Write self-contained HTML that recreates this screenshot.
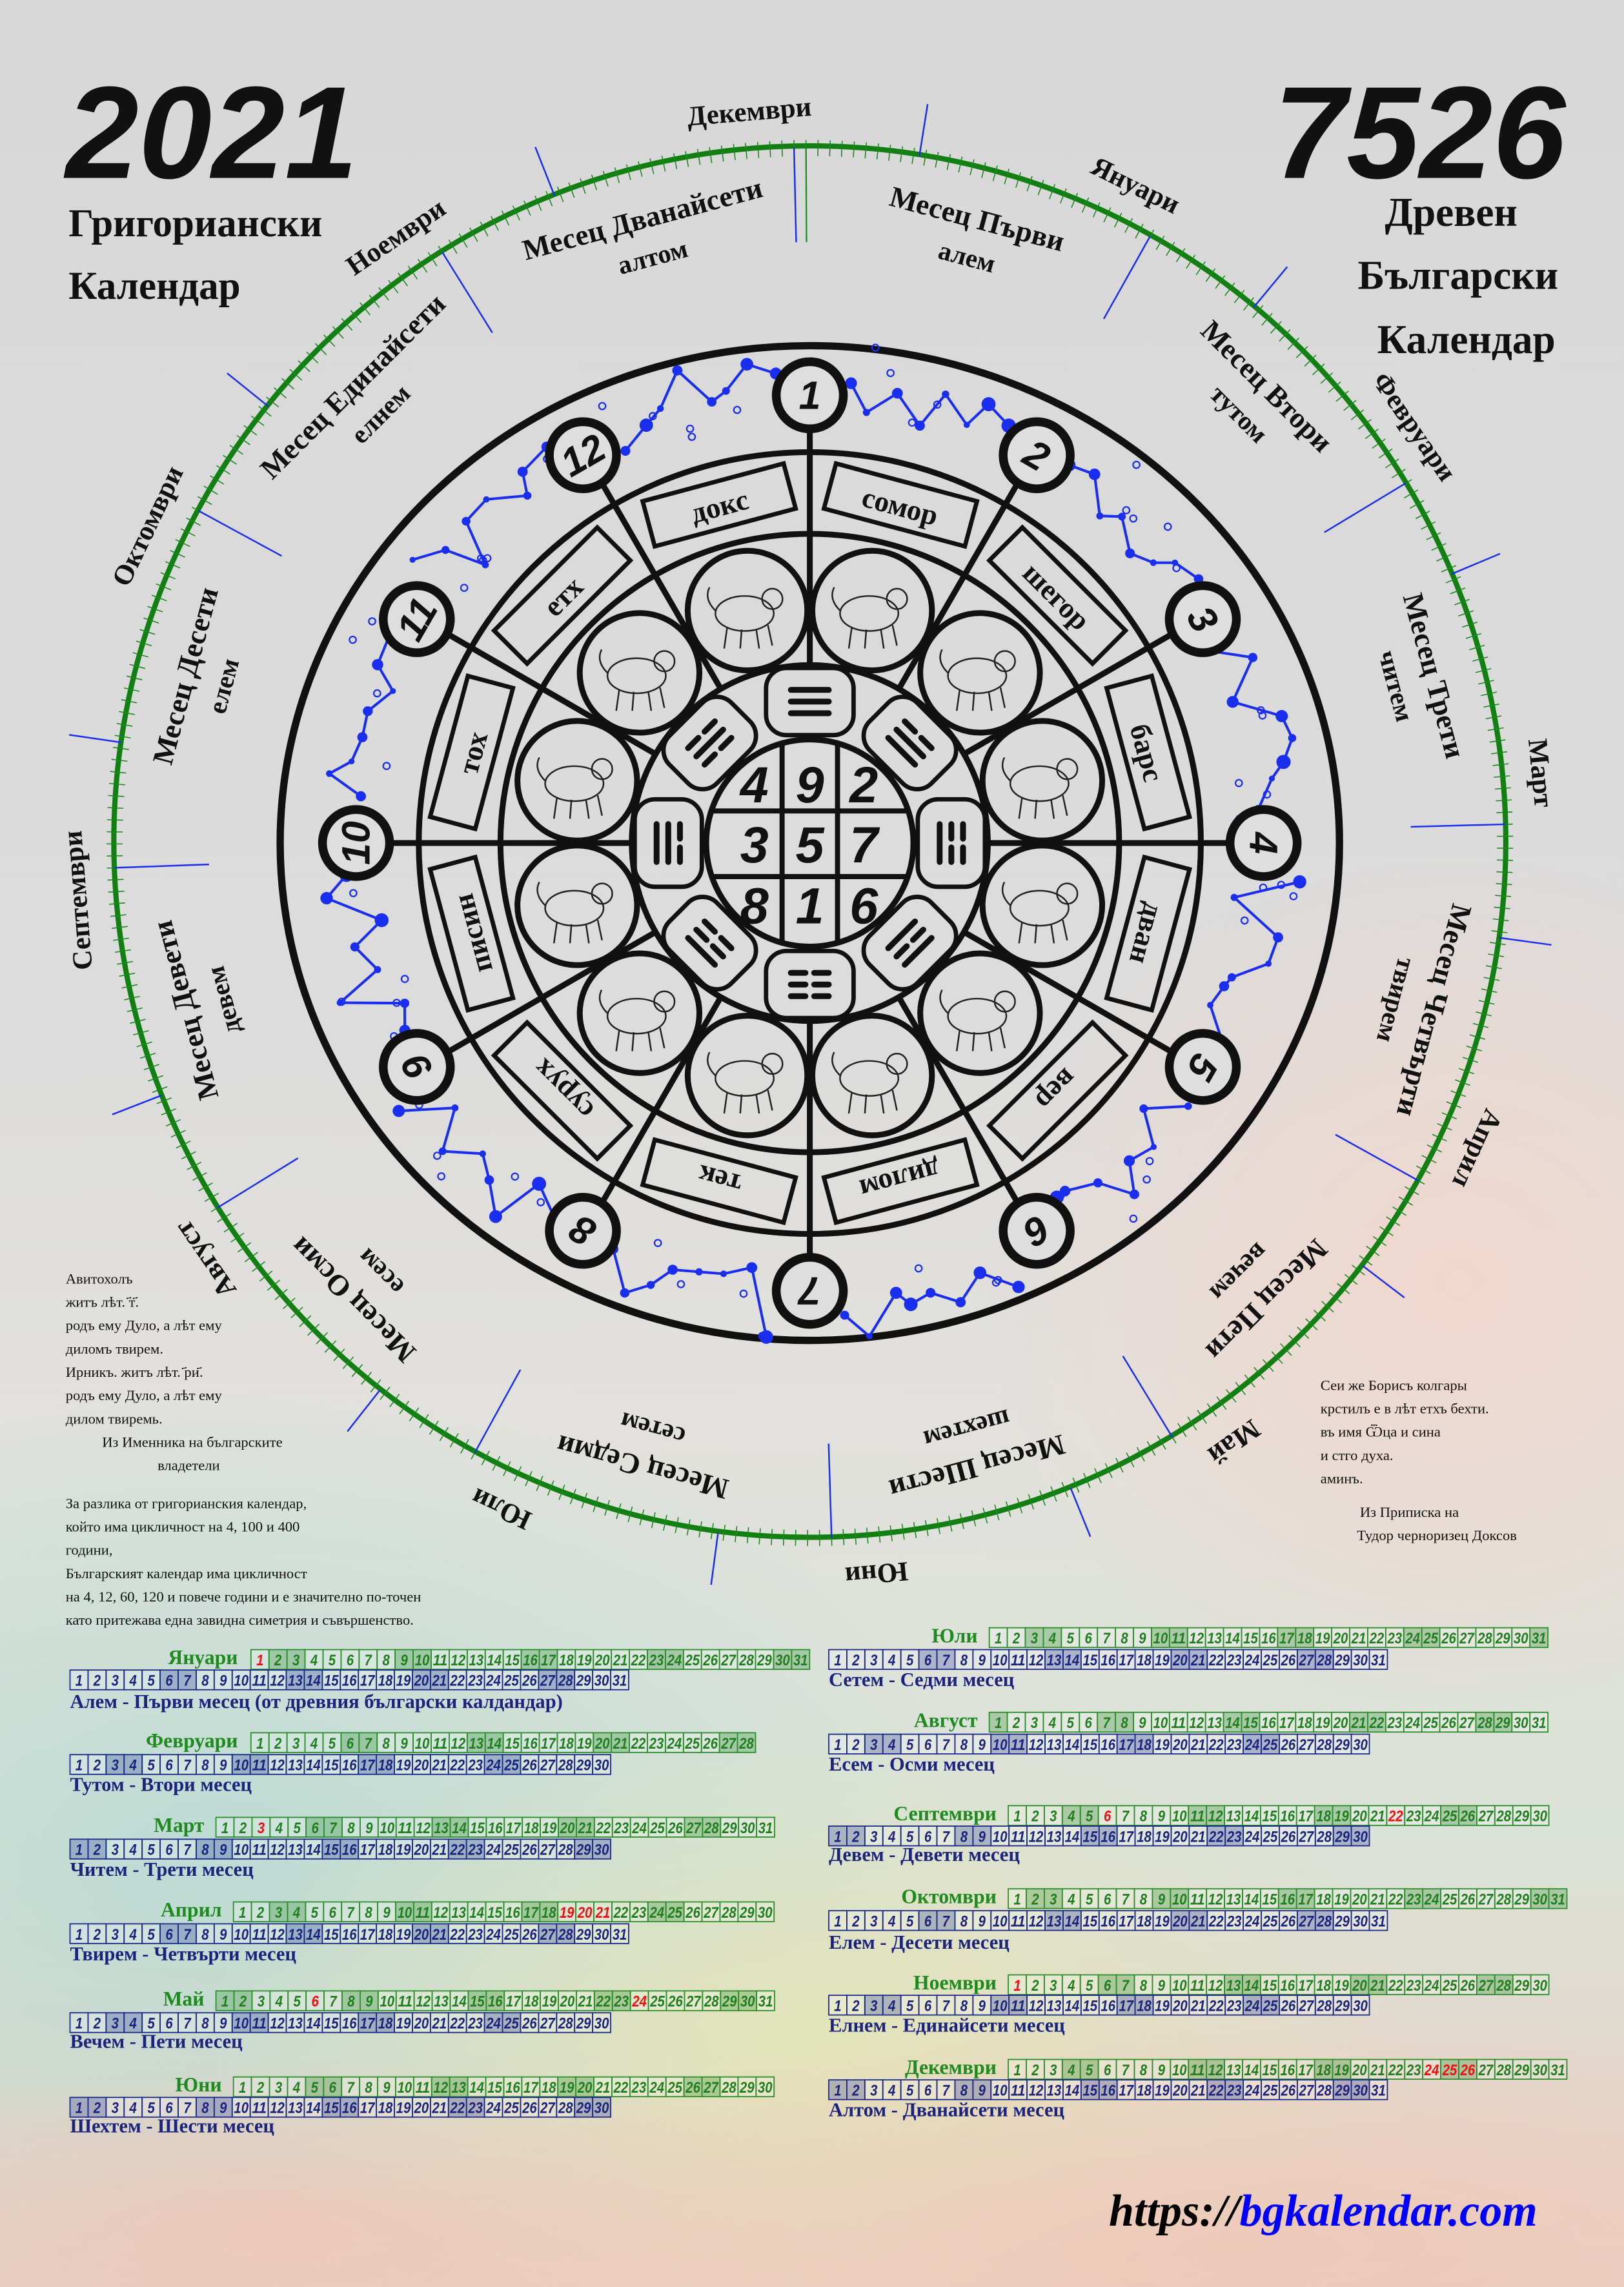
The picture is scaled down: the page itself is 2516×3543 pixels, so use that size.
<!DOCTYPE html>
<html><head><meta charset="utf-8">
<style>
html,body{margin:0;padding:0;width:2516px;height:3543px;overflow:hidden;}
svg{display:block;}
.s{font-family:"Liberation Serif","DejaVu Serif",serif;font-weight:bold;}
.n{font-family:"Liberation Sans","DejaVu Sans",sans-serif;font-weight:bold;font-style:italic;}
.t{font-family:"Liberation Serif","DejaVu Serif",serif;font-size:10px;fill:#111;}
.gl{font-family:"Liberation Serif",serif;font-weight:bold;font-size:14px;fill:#1f8a1f;text-anchor:end;}
.cap{font-family:"Liberation Serif",serif;font-weight:bold;font-size:13.5px;fill:#1a237e;}
</style></head>
<body>
<svg id="sv" width="2516" height="3543" viewBox="0 0 1113 1568" preserveAspectRatio="none" xmlns="http://www.w3.org/2000/svg">
<defs>
<linearGradient id="bg" x1="0" y1="0" x2="0" y2="1">
<stop offset="0" stop-color="#d8d8d8"/>
<stop offset="0.45" stop-color="#dcdcdc"/>
<stop offset="0.62" stop-color="#e2e1dd"/>
<stop offset="0.8" stop-color="#dbe2d8"/>
<stop offset="1" stop-color="#e9cfc2"/>
</linearGradient>
<radialGradient id="r1"><stop offset="0" stop-color="#b9dbd3" stop-opacity="0.9"/><stop offset="1" stop-color="#b9dbd3" stop-opacity="0"/></radialGradient>
<radialGradient id="r2"><stop offset="0" stop-color="#f3d6cc" stop-opacity="0.9"/><stop offset="1" stop-color="#f3d6cc" stop-opacity="0"/></radialGradient>
<radialGradient id="r3"><stop offset="0" stop-color="#e3e6b8" stop-opacity="0.9"/><stop offset="1" stop-color="#e3e6b8" stop-opacity="0"/></radialGradient>
<radialGradient id="r4"><stop offset="0" stop-color="#efc9b8" stop-opacity="0.9"/><stop offset="1" stop-color="#efc9b8" stop-opacity="0"/></radialGradient>
</defs>
<rect width="1113" height="1568" fill="url(#bg)"/>
<ellipse cx="150" cy="1280" rx="520" ry="330" fill="url(#r1)"/>
<ellipse cx="1000" cy="880" rx="330" ry="300" fill="url(#r2)"/>
<ellipse cx="560" cy="1400" rx="420" ry="220" fill="url(#r3)"/>
<ellipse cx="850" cy="1540" rx="600" ry="160" fill="url(#r4)"/>
<ellipse cx="200" cy="1530" rx="400" ry="120" fill="url(#r4)"/>

<text x="45" y="122" class="n" font-size="90" fill="#111">2021</text>
<text x="47" y="162" class="s" font-size="27" fill="#111">Григориански</text>
<text x="47" y="205" class="s" font-size="27" fill="#111">Календар</text>
<text x="1073" y="122" class="n" font-size="90" fill="#111" text-anchor="end">7526</text>
<text x="1040" y="155" class="s" font-size="28" fill="#111" text-anchor="end">Древен</text>
<text x="1068" y="198" class="s" font-size="28" fill="#111" text-anchor="end">Български</text>
<text x="1066" y="242" class="s" font-size="28" fill="#111" text-anchor="end">Календар</text>

<g id="wheel"></g>

<text class="t"><tspan x="45" y="880">Авитохолъ</tspan><tspan x="45" y="896">житъ лѣт. ҃т҃.</tspan><tspan x="45" y="912">родъ ему Дуло, а лѣт ему</tspan><tspan x="45" y="928">диломъ твирем.</tspan><tspan x="45" y="944">Ирникъ. житъ лѣт. ҃ри҃.</tspan><tspan x="45" y="960">родъ ему Дуло, а лѣт ему</tspan><tspan x="45" y="976">дилом твиремь.</tspan><tspan x="70" y="992">Из Именника на българските</tspan><tspan x="108" y="1008">владетели</tspan></text>
<text class="t"><tspan x="45" y="1034">За разлика от григорианския календар,</tspan><tspan x="45" y="1050">който има цикличност на 4, 100 и 400</tspan><tspan x="45" y="1066">години,</tspan><tspan x="45" y="1082">Българският календар има цикличност</tspan><tspan x="45" y="1098">на 4, 12, 60, 120 и повече години и е значително по-точен</tspan><tspan x="45" y="1114">като притежава една завидна симетрия и съвършенство.</tspan></text>
<text class="t"><tspan x="905" y="953">Сеи же Борисъ колгары</tspan><tspan x="905" y="969">крстилъ е в лѣт етхъ бехти.</tspan><tspan x="905" y="985">въ имя Ѿца и сина</tspan><tspan x="905" y="1001">и стго духа.</tspan><tspan x="905" y="1017">аминъ.</tspan><tspan x="932" y="1040">Из Приписка на</tspan><tspan x="930" y="1056">Тудор черноризец Доксов</tspan></text>

<g id="cal"></g>
<text class="gl" x="163" y="1141">Януари</text>
<text class="cap" x="48" y="1171">Алем - Първи месец (от древния български калдандар)</text>
<text class="gl" x="163" y="1198">Февруари</text>
<text class="cap" x="48" y="1228">Тутом - Втори месец</text>
<text class="gl" x="140" y="1256">Март</text>
<text class="cap" x="48" y="1286">Читем - Трети месец</text>
<text class="gl" x="152" y="1314">Април</text>
<text class="cap" x="48" y="1344">Твирем - Четвърти месец</text>
<text class="gl" x="140" y="1375">Май</text>
<text class="cap" x="48" y="1404">Вечем - Пети месец</text>
<text class="gl" x="152" y="1434">Юни</text>
<text class="cap" x="48" y="1462">Шехтем - Шести месец</text>
<text class="gl" x="670" y="1126">Юли</text>
<text class="cap" x="568" y="1156">Сетем - Седми месец</text>
<text class="gl" x="670" y="1184">Август</text>
<text class="cap" x="568" y="1214">Есем - Осми месец</text>
<text class="gl" x="683" y="1248">Септември</text>
<text class="cap" x="568" y="1276">Девем - Девети месец</text>
<text class="gl" x="683" y="1305">Октомври</text>
<text class="cap" x="568" y="1336">Елем - Десети месец</text>
<text class="gl" x="683" y="1364">Ноември</text>
<text class="cap" x="568" y="1393">Елнем - Единайсети месец</text>
<text class="gl" x="683" y="1422">Декември</text>
<text class="cap" x="568" y="1451">Алтом - Дванайсети месец</text>

<text x="760" y="1526" font-family="Liberation Serif,serif" font-weight="bold" font-style="italic" font-size="31"><tspan fill="#000">https://</tspan><tspan fill="#0000ff">bgkalendar.com</tspan></text>
</svg>
<script>
var NS="http://www.w3.org/2000/svg";
function el(p,tag,a,txt){var e=document.createElementNS(NS,tag);for(var k in a)e.setAttribute(k,a[k]);if(txt!==undefined)e.textContent=txt;p.appendChild(e);return e;}
var W=document.getElementById("wheel");
var CX=555,CY=578;
function pol(r,d,rx){var a=(d-90)*Math.PI/180;return [CX+(rx||r)*Math.cos(a),CY+r*Math.sin(a)];}
function ang(doy){return -1.3+doy*360/365;}
el(W,"circle",{cx:CX,cy:577,r:477,fill:"none",stroke:"#127f12","stroke-width":3.6});
var tk="";
for(var i=0;i<365;i++){var d=ang(i);var p1=pol(471,d),p2=pol(482,d);tk+="M"+p1[0].toFixed(1)+" "+p1[1].toFixed(1)+"L"+p2[0].toFixed(1)+" "+p2[1].toFixed(1);}
el(W,"path",{d:tk,stroke:"#1a8a1a","stroke-width":0.7,fill:"none"});
var gStart=[11,42,70,101,131,162,192,223,254,284,315,345];
var gLen=[31,28,31,30,31,30,31,31,30,31,30,31];
var gN=["Януари","Февруари","Март","Април","Май","Юни","Юли","Август","Септември","Октомври","Ноември","Декември"];
var bL=[31,30,30,31,30,30,31,30,30,31,30,31];
var bS=[];var c=0;for(i=0;i<12;i++){bS.push(c);c+=bL[i];}
var ln="";
for(i=0;i<12;i++){var d=ang(gStart[i]-0.5);var a=pol(477,d),b=pol(513,d);ln+="M"+a[0]+" "+a[1]+"L"+b[0]+" "+b[1];
 d=ang(bS[i]);a=pol(412,d);b=pol(477,d);ln+="M"+a[0]+" "+a[1]+"L"+b[0]+" "+b[1];}
el(W,"path",{d:ln,stroke:"#1a2ef0","stroke-width":1.1,fill:"none"});
var gp=pol(412,ang(1)),gq=pol(477,ang(1));
el(W,"line",{x1:gp[0],y1:gp[1],x2:gq[0],y2:gq[1],stroke:"#1a8a1a","stroke-width":1});
function rtext(r,d,txt,size,cls){var p=pol(r,d);return el(W,"text",{x:0,y:0,"text-anchor":"middle","dominant-baseline":"central","font-size":size,"class":cls||"s",fill:"#111",transform:"translate("+p[0].toFixed(1)+","+p[1].toFixed(1)+") rotate("+d.toFixed(1)+")"},txt);}
for(i=0;i<12;i++){var mid=(i==11)?-5:gStart[i]+gLen[i]/2;rtext(503,ang(mid)+1.5,gN[i],19);}
var bn=[["Първи","алем"],["Втори","тутом"],["Трети","читем"],["Четвърти","твирем"],["Пети","вечем"],["Шести","шехтем"],["Седми","сетем"],["Осми","есем"],["Девети","девем"],["Десети","елем"],["Единайсети","елнем"],["Дванайсети","алтом"]];
for(i=0;i<12;i++){var d=15+30*i;rtext(443,d,"Месец "+bn[i][0],20);rtext(416,d,bn[i][1],18);}
el(W,"ellipse",{cx:CX,cy:CY,rx:363,ry:341,fill:"none",stroke:"#111","stroke-width":5});
el(W,"circle",{cx:CX,cy:CY,r:268,fill:"none",stroke:"#111","stroke-width":4});
el(W,"circle",{cx:CX,cy:CY,r:212,fill:"none",stroke:"#111","stroke-width":4});
var sp="";
for(i=0;i<12;i++){var d=30*i;var a=pol(122,d),b=pol(288,d);sp+="M"+a[0]+" "+a[1]+"L"+b[0]+" "+b[1];}
el(W,"path",{d:sp,stroke:"#111","stroke-width":4});
var seed=7;function rnd(){seed=(seed*9301+49297)%233280;return seed/233280;}
for(i=0;i<12;i++){var base=15+30*i;var pts=[];for(var j=0;j<8;j++){pts.push(pol(292+rnd()*50,base-11+j*3+rnd()*2));}
 var dd="M"+pts[0][0]+" "+pts[0][1];for(j=1;j<pts.length;j++)dd+="L"+pts[j][0]+" "+pts[j][1];
 el(W,"path",{d:dd,stroke:"#1a2ef0","stroke-width":1.8,fill:"none"});
 for(j=0;j<pts.length;j++)el(W,"circle",{cx:pts[j][0],cy:pts[j][1],r:2+rnd()*3,fill:"#1a2ef0"});
 for(j=0;j<5;j++){var q=pol(290+rnd()*55,base-12+rnd()*24);el(W,"circle",{cx:q[0],cy:q[1],r:2.3,fill:"none",stroke:"#1a2ef0","stroke-width":1});}}
for(i=0;i<12;i++){var d=30*i;var p=pol(307,d,311);el(W,"circle",{cx:p[0],cy:p[1],r:23,fill:"#dedede",stroke:"#111","stroke-width":6});
 el(W,"text",{x:0,y:0,"text-anchor":"middle","dominant-baseline":"central","font-size":27,"class":"n",fill:"#111",transform:"translate("+p[0]+","+p[1]+") rotate("+d+")"},String(i+1));}
var an=["сомор","шегор","барс","дван","вер","дилом","тек","сурух","писин","тох","етх","докс"];
for(i=0;i<12;i++){var d=15+30*i;var p=pol(240,d);var g=el(W,"g",{transform:"translate("+p[0]+","+p[1]+") rotate("+d+")"});
 el(g,"rect",{x:-50,y:-16,width:100,height:32,fill:"none",stroke:"#111","stroke-width":3});
 el(g,"text",{x:0,y:1,"text-anchor":"middle","dominant-baseline":"central","font-size":20,"class":"s",fill:"#111"},an[i]);}
for(i=0;i<12;i++){var d=15+30*i;var p=pol(165,d);el(W,"circle",{cx:p[0],cy:p[1],r:41,fill:"none",stroke:"#111","stroke-width":4});
 var g=el(W,"g",{transform:"translate("+p[0]+","+p[1]+")",fill:"none",stroke:"#222","stroke-width":1.1});
 el(g,"ellipse",{cx:-2,cy:2,rx:20,ry:12});el(g,"circle",{cx:17,cy:-8,r:7});
 el(g,"path",{d:"M-14 12L-16 26M-4 13L-5 26M6 13L8 26M14 10L17 24M-22 0Q-30 -8 -26 -16"});}
el(W,"circle",{cx:CX,cy:CY,r:122,fill:"none",stroke:"#111","stroke-width":4});
var tri=[[1,1,1],[0,1,1],[0,0,1],[1,0,1],[0,0,0],[1,0,0],[1,1,0],[0,1,0]];
for(i=0;i<8;i++){var d=45*i;var p=pol(96,d);var g=el(W,"g",{transform:"translate("+p[0]+","+p[1]+") rotate("+d+")"});
 el(g,"rect",{x:-30,y:-24,width:60,height:46,rx:14,fill:"none",stroke:"#111","stroke-width":3});
 for(var j=0;j<3;j++){var y=-9+j*8;if(tri[i][j])el(g,"line",{x1:-13,y1:y,x2:13,y2:y,stroke:"#111","stroke-width":4,"stroke-linecap":"round"});
  else{el(g,"line",{x1:-13,y1:y,x2:-3,y2:y,stroke:"#111","stroke-width":4,"stroke-linecap":"round"});el(g,"line",{x1:3,y1:y,x2:13,y2:y,stroke:"#111","stroke-width":4,"stroke-linecap":"round"});}}}
el(W,"circle",{cx:CX,cy:CY,r:71,fill:"#dcdcdc",stroke:"#111","stroke-width":4});
var gl="M536 "+(CY-68)+"L536 "+(CY+68)+"M574 "+(CY-68)+"L574 "+(CY+68)+"M"+(CX-67)+" 556L"+(CX+67)+" 556M"+(CX-67)+" 601L"+(CX+67)+" 601";
el(W,"path",{d:gl,stroke:"#111","stroke-width":3.5});
var ls=[["4","9","2"],["3","5","7"],["8","1","6"]];var xs=[517,555,592],ys=[538,579,621];
for(i=0;i<3;i++)for(j=0;j<3;j++)el(W,"text",{x:xs[j],y:ys[i],"text-anchor":"middle","dominant-baseline":"central","font-size":35,"class":"n",fill:"#111"},ls[i][j]);
var C2=document.getElementById("cal");var CW=12.35,CH=13.5;
function row(x,y,n,green,shade,red){for(var d=1;d<=n;d++){var xx=x+(d-1)*CW;
 el(C2,"rect",{x:xx,y:y,width:CW,height:CH,fill:shade(d)?(green?"rgba(40,140,40,0.28)":"rgba(40,60,160,0.28)"):"rgba(255,255,255,0.22)",stroke:green?"#2b8f2b":"#1c2a8a","stroke-width":0.8});
 el(C2,"text",{x:xx+CW/2,y:y+CH-2.7,"text-anchor":"middle","font-size":10.5,"class":"n",fill:red.indexOf(d)>=0?"#ee1111":(green?"#1f7f1f":"#1a237e"),textLength:d>9?10:5,lengthAdjust:"spacingAndGlyphs"},String(d));}}
var L=[[172,1131,1145,[1]],[172,1188,1203,[]],[148,1246,1261,[3]],[160,1304,1319,[19,20,21]],[148,1365,1380,[6,24]],[160,1424,1438,[]],
[678,1116,1131,[]],[678,1174,1189,[]],[691,1238,1252,[6,22]],[691,1295,1310,[]],[691,1354,1368,[1]],[691,1412,1426,[24,25,26]]];
var off=0;
for(i=0;i<12;i++){var m=i;var q=L[i];
 row(q[0],q[1],gLen[m],true,(function(m){return function(d){var w=new Date(2021,m,d).getDay();return w==0||w==6;};})(m),q[3]);
 var bx=i<6?48:568;
 row(bx,q[2],bL[m],false,(function(o){return function(d){var w=(o+d-1)%7;return w==5||w==6;};})(off),[]);
 off=(off+bL[m])%7;}
</script>
</body></html>
